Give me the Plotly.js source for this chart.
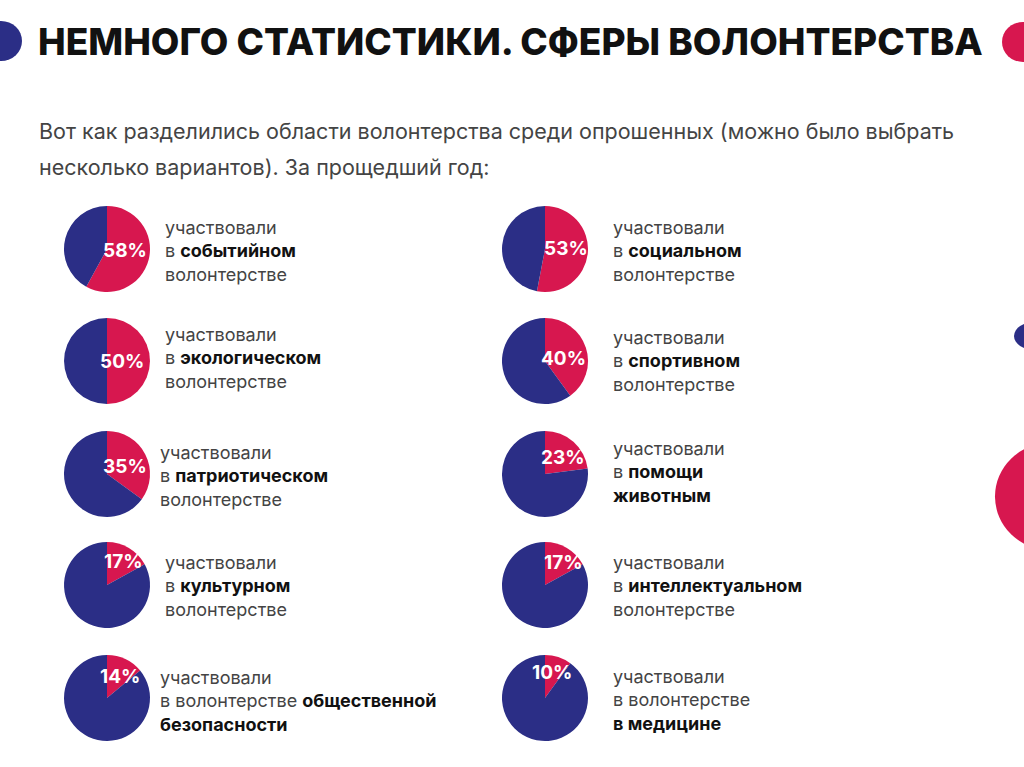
<!DOCTYPE html>
<html>
<head>
<meta charset="utf-8">
<script src="https://cdn.plot.ly/plotly-3.0.1.min.js"></script>
<style>html,body{margin:0;padding:0;background:#fff;}#chart{width:1024px;height:767px;}</style>
</head>
<body>
<div id="chart"></div>
<script>
// ---- data ----
const percents = [58, 50, 35, 17, 14, 53, 40, 23, 17, 10];
const lineOne = ["участвовали","участвовали","участвовали","участвовали","участвовали",
                 "участвовали","участвовали","участвовали","участвовали","участвовали"];
const lineTwo = ["в <b>событийном</b>","в <b>экологическом</b>","в <b>патриотическом</b>","в <b>культурном</b>","в волонтерстве <b>общественной</b>",
                 "в <b>социальном</b>","в <b>спортивном</b>","в <b>помощи</b>","в <b>интеллектуальном</b>","в волонтерстве"];
const lineThree = ["волонтерстве","волонтерстве","волонтерстве","волонтерстве","<b>безопасности</b>",
                   "волонтерстве","волонтерстве","<b>животным</b>","волонтерстве","<b>в медицине</b>"];
const titleText = "НЕМНОГО СТАТИСТИКИ. СФЕРЫ ВОЛОНТЕРСТВА";
const subLine1 = "Вот как разделились области волонтерства среди опрошенных (можно было выбрать";
const subLine2 = "несколько вариантов). За прощедший год:";

// ---- layout helpers (pixel positions) ----
const W = 1024, H = 767;
const px = x => x / W;
const py = y => 1 - y / H;
const MAG = "#d7174f", NAVY = "#2b2e86";
const pieCx = [107,107,107,107,107,545,545,545,545,545];
const pieCy = [249,361,474,585,698,249,361,474,585,698];
const pieR = 43;
const labXY = [[125,250],[122,361],[125,466],[123,561],[120,676],
               [566,249],[563,358],[563,457],[563,562],[552,672]];
const txtX = [163,163,158,163,158,611,611,611,611,611];
const txtY = [251,358,476,586,701,251,361,472,586,700];

const FONT = "Inter, 'Open Sans', sans-serif";

const traces = percents.map((p, i) => ({
  type: "pie",
  values: [p, 100 - p],
  sort: false,
  direction: "clockwise",
  rotation: 0,
  marker: {colors: [MAG, NAVY], line: {width: 0}},
  textinfo: "none",
  hoverinfo: "skip",
  showlegend: false,
  domain: {x: [px(pieCx[i] - pieR), px(pieCx[i] + pieR)],
           y: [py(pieCy[i] + pieR), py(pieCy[i] - pieR)]}
}));

const annotations = [];
annotations.push({text: titleText, x: px(36), y: py(41), xref: "paper", yref: "paper",
  xanchor: "left", yanchor: "middle", showarrow: false, font: {family: FONT, size: 37, weight: 800, color: "#111"}});
annotations.push({text: subLine1, x: px(37), y: py(131), xref: "paper", yref: "paper",
  xanchor: "left", yanchor: "middle", showarrow: false, font: {family: FONT, size: 21.5, color: "#444"}});
annotations.push({text: subLine2, x: px(37), y: py(167), xref: "paper", yref: "paper",
  xanchor: "left", yanchor: "middle", showarrow: false, font: {family: FONT, size: 21.5, color: "#444"}});

percents.forEach((p, i) => {
  annotations.push({text: "<b>" + p + "%</b>", x: px(labXY[i][0]), y: py(labXY[i][1]), xref: "paper", yref: "paper",
    xanchor: "center", yanchor: "middle", showarrow: false, font: {family: FONT, size: 19, color: "#ffffff"}});
  const body = [lineOne[i], lineTwo[i], lineThree[i]]
    .map(s => s.replace(/<b>(.*?)<\/b>/g, '<span style="color:#111"><b>$1</b></span>')).join("<br>");
  annotations.push({text: body, x: px(txtX[i]), y: py(txtY[i]), xref: "paper", yref: "paper",
    xanchor: "left", yanchor: "middle", align: "left", showarrow: false,
    font: {family: FONT, size: 18, color: "#444"}});
});

const circ = (x0, y0, x1, y1, c) => ({type: "circle", xref: "paper", yref: "paper",
  x0: px(x0), x1: px(x1), y0: py(y1), y1: py(y0), fillcolor: c, line: {width: 0}, layer: "below"});

const layout = {
  width: W, height: H,
  margin: {l: 0, r: 0, t: 0, b: 0},
  paper_bgcolor: "#ffffff",
  showlegend: false,
  annotations: annotations,
  shapes: [
    circ(-20, 21, 22, 61, NAVY),
    circ(1002, 22, 1044, 62, MAG),
    circ(1014, 322, 1056, 350, NAVY),
    circ(995, 443, 1105, 550, MAG)
  ]
};

Plotly.newPlot("chart", traces, layout, {displayModeBar: false, staticPlot: true});
</script>
</body>
</html>
